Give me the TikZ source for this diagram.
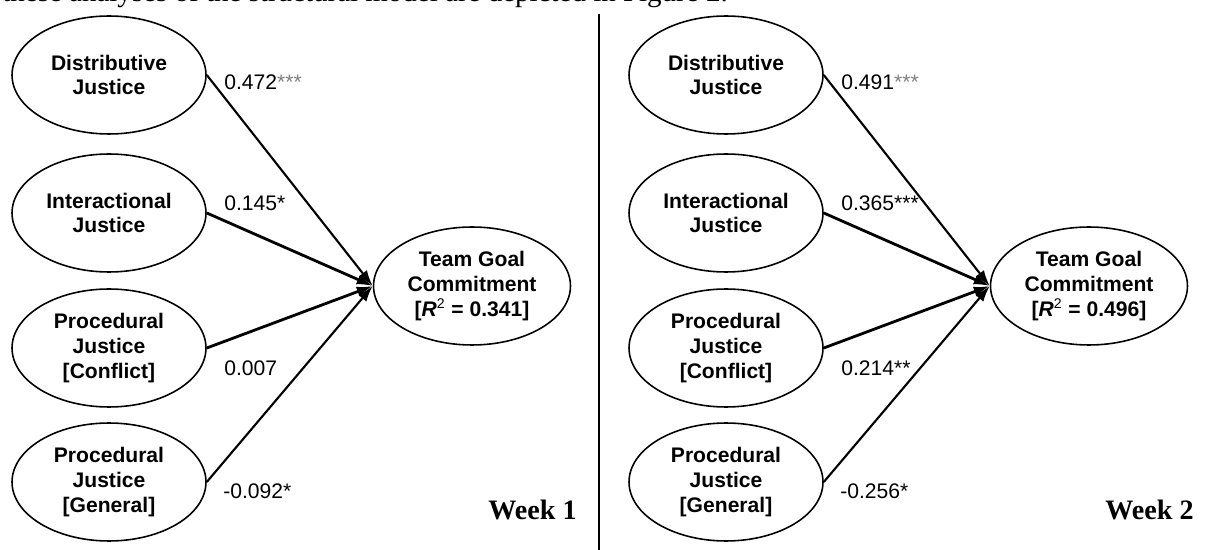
\documentclass[tikz,border=0pt]{standalone}
\usepackage{xcolor}
\usepackage{fontspec}
\setmainfont{Liberation Serif}
\setsansfont{Liberation Sans}
\usetikzlibrary{shapes.geometric,arrows.meta}

\begin{document}
\begin{tikzpicture}[x=0.02cm,y=-0.02cm,
    latent/.style={draw,line width=0.9pt,ellipse,minimum width=3.88cm,minimum height=2.36cm,
        inner sep=0pt,align=center,font=\sffamily\bfseries\fontsize{12}{14}\selectfont},
    pathcoef/.style={line width=1.2pt,-{Latex[length=3.2mm,width=2.1mm]}},
    pathflat/.style={pathcoef,line width=1.6pt},
    coef/.style={anchor=west,inner sep=0pt,font=\sffamily\fontsize{12}{14}\selectfont},
    weeklabel/.style={anchor=base east,inner sep=0pt,font=\bfseries\fontsize{16}{19}\selectfont}]
                \useasboundingbox (0,0) rectangle (1207,550);

                \node[anchor=base east,inner sep=0pt,font=\fontsize{16.5}{19}\selectfont] (caption) at (728,2)
                    {these analyses of the structural model are depicted in Figure 2.};

                \draw[line width=0.9pt] (599,14) -- (599,550);

                % week 1
                \node[latent] (dj1)  at (109,75)  {Distributive\\Justice};
                \node[latent] (ij1)  at (109,213) {Interactional\\Justice};
                \node[latent] (pjc1) at (109,348) {Procedural\\Justice\\{[Conflict]}};
                \node[latent] (pjg1) at (109,482) {Procedural\\Justice\\{[General]}};
                \node[latent,minimum width=3.94cm] (tgc1) at (472,286) {Team Goal\\Commitment\\{[\textit{R}\textsuperscript{\mdseries 2} = 0.341]}};

                \draw[pathcoef] (dj1.east)  -- (tgc1.west);
                \draw[pathflat] (ij1.east)  -- (tgc1.west);
                \draw[pathflat] (pjc1.east) -- (tgc1.west);
                \draw[pathcoef] (pjg1.east) -- (tgc1.west);

                \node[coef] (c11) at (224,82)  {0.472\textcolor{gray}{***}};
                \node[coef] (c12) at (224,203) {0.145*};
                \node[coef] (c13) at (224,368) {0.007};
                \node[coef] (c14) at (223,491) {-0.092*};

                \node[weeklabel] (week1) at (577,519) {Week 1};

                % week 2
                \node[latent] (dj2)  at (726,75)  {Distributive\\Justice};
                \node[latent] (ij2)  at (726,213) {Interactional\\Justice};
                \node[latent] (pjc2) at (726,348) {Procedural\\Justice\\{[Conflict]}};
                \node[latent] (pjg2) at (726,482) {Procedural\\Justice\\{[General]}};
                \node[latent,minimum width=3.94cm] (tgc2) at (1089,286) {Team Goal\\Commitment\\{[\textit{R}\textsuperscript{\mdseries 2} = 0.496]}};

                \draw[pathcoef] (dj2.east)  -- (tgc2.west);
                \draw[pathflat] (ij2.east)  -- (tgc2.west);
                \draw[pathflat] (pjc2.east) -- (tgc2.west);
                \draw[pathcoef] (pjg2.east) -- (tgc2.west);

                \node[coef] (c21) at (841,82)  {0.491\textcolor{gray}{***}};
                \node[coef] (c22) at (841,203) {0.365***};
                \node[coef] (c23) at (841,368) {0.214**};
                \node[coef] (c24) at (840,491) {-0.256*};

                \node[weeklabel] (week2) at (1194,519) {Week 2};
            \end{tikzpicture}
\end{document}
